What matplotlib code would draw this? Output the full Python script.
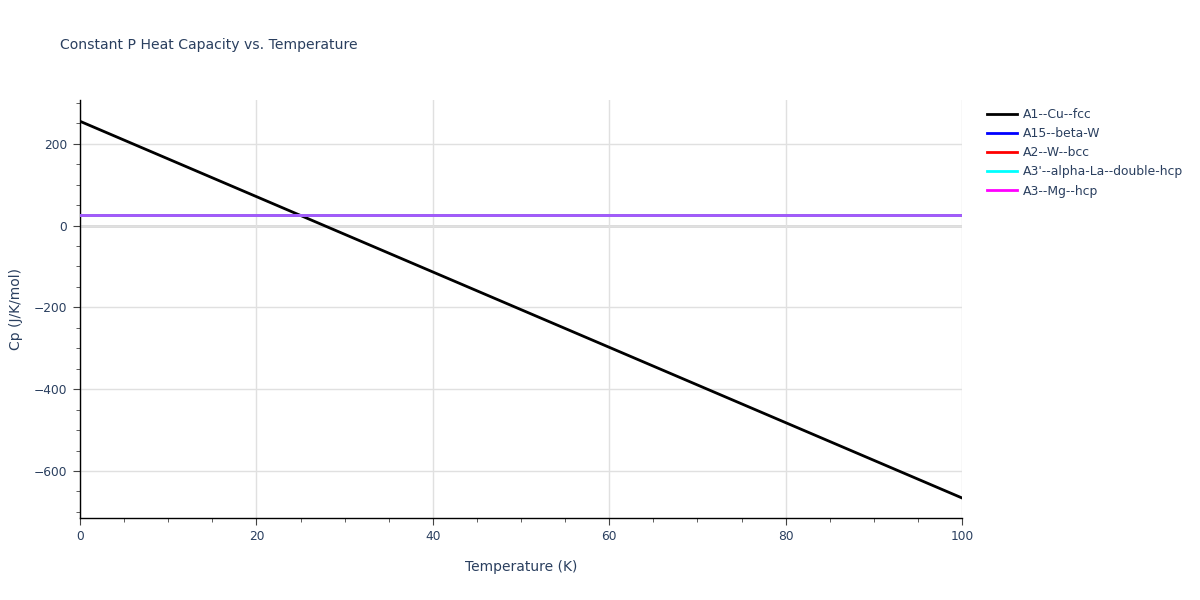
import numpy as np
import matplotlib
matplotlib.use("Agg")
import matplotlib.pyplot as plt
from matplotlib.ticker import MultipleLocator

# temperature grid (K) and heat capacity (J/K/mol) per phase
temperature = [0, 100]
cp_cu_fcc = [255, -666]
cp_beta_w = [25.0, 25.0]
cp_w_bcc = [25.0, 25.0]
cp_la_dhcp = [25.0, 25.0]
cp_mg_hcp = [25.0, 25.0]

labels = ["A1--Cu--fcc", "A15--beta-W", "A2--W--bcc",
          "A3'--alpha-La--double-hcp", "A3--Mg--hcp"]
colors = ["black", "blue", "red", "cyan", "magenta"]
series = [cp_cu_fcc, cp_beta_w, cp_w_bcc, cp_la_dhcp, cp_mg_hcp]

TXT = "#2a3f5f"
plt.rcParams["font.family"] = ["DejaVu Sans"]

fig = plt.figure(figsize=(12, 6), dpi=100)
ax = fig.add_axes([80 / 1200, 1 - 518 / 600, 882 / 1200, 418 / 600])

alphas = [1, 1, 1, 1, 0.65]
for y, c, lab, a in zip(series, colors, labels, alphas):
    ax.plot(temperature, y, color=c, lw=2, label=lab, alpha=a, zorder=3)

ax.set_xlim(0, 100)
ax.set_ylim(-715, 307)
ax.xaxis.set_major_locator(MultipleLocator(20))
ax.xaxis.set_minor_locator(MultipleLocator(5))
ax.yaxis.set_major_locator(MultipleLocator(200))
ax.yaxis.set_minor_locator(MultipleLocator(50))
ax.grid(True, which="major", color="#e0e0e0", lw=1, zorder=0)
ax.axhline(0, color="#d8d8d8", lw=2, zorder=1)

for s in ["top", "right"]:
    ax.spines[s].set_visible(False)
for s in ["left", "bottom"]:
    ax.spines[s].set_color("black")
    ax.spines[s].set_linewidth(1)

ax.tick_params(which="major", length=5, color="#444444", labelsize=8.8,
               labelcolor=TXT, pad=4)
ax.tick_params(which="minor", length=3, color="#444444")
ax.set_yticklabels([f"{int(v)}".replace("-", "\u2212") for v in ax.get_yticks()])

ax.set_xlabel("Temperature (K)", fontsize=10, color=TXT, labelpad=12)
ax.set_ylabel("Cp (J/K/mol)", fontsize=10, color=TXT, labelpad=8)

fig.text(60 / 1200, 1 - 45 / 600, "Constant P Heat Capacity vs. Temperature",
         fontsize=10.1, color=TXT, va="center", ha="left")

leg = ax.legend(loc="upper left", bbox_to_anchor=(982 / 1200, 1 - 103 / 600),
                bbox_transform=fig.transFigure, frameon=False, fontsize=8.9,
                handlelength=2.4, handletextpad=0.5, labelspacing=0.5,
                borderaxespad=0)
for t in leg.get_texts():
    t.set_color(TXT)
for h in leg.get_lines():
    h.set_alpha(1)

fig.savefig("out.png", dpi=100, facecolor="white")
